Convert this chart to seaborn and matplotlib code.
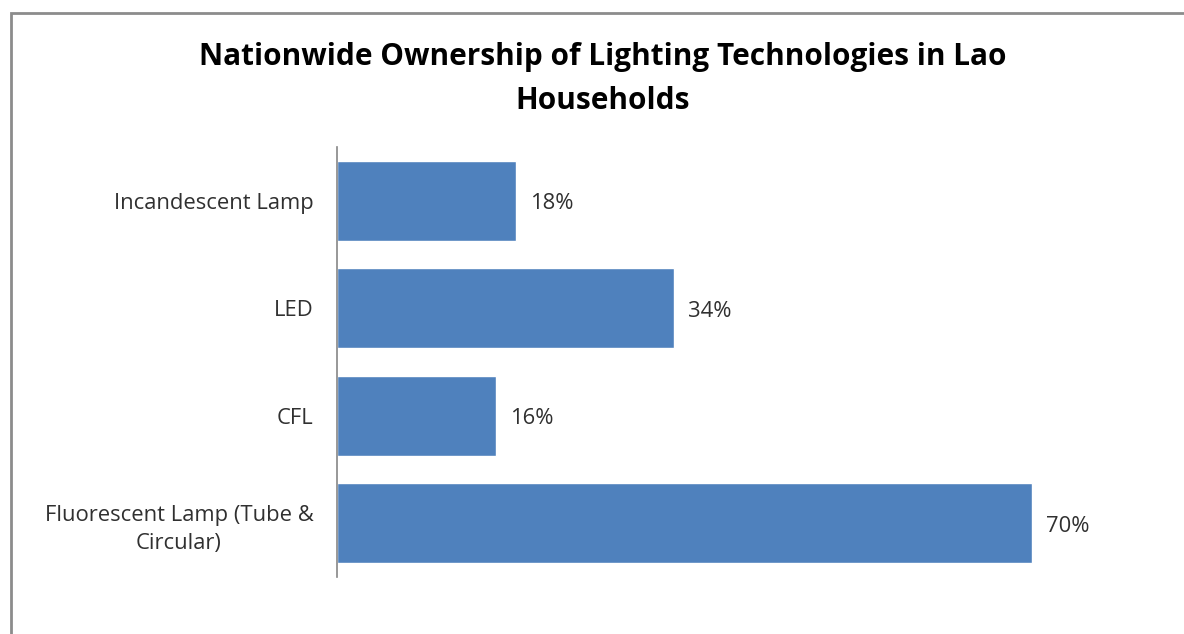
import matplotlib
matplotlib.use("Agg")
import matplotlib.pyplot as plt
from matplotlib.patches import Rectangle
import seaborn as sns
import pandas as pd

# Share of households owning each lighting technology
categories = [
    "Incandescent Lamp",
    "LED",
    "CFL",
    "Fluorescent Lamp (Tube &\nCircular)",
]
ownership = [0.18, 0.34, 0.16, 0.70]
value_labels = ["18%", "34%", "16%", "70%"]

title = "Nationwide Ownership of Lighting Technologies in Lao\nHouseholds"

sns.set_theme(style="white")
plt.rcParams["font.family"] = ["Open Sans", "DejaVu Sans"]

W, H = 1184, 634
fig = plt.figure(figsize=(W / 100, H / 100), dpi=100)
fig.patch.set_facecolor("white")

# Outer chart frame (runs past the right and bottom edges)
fig.add_artist(Rectangle((11 / W, -0.05), 1.2, 1 - 13 / H + 0.05,
                         transform=fig.transFigure, fill=False,
                         edgecolor="#8c8c8c", linewidth=2))

ax = fig.add_axes([337 / W, 1 - 577 / H, (1131 - 337) / W, (577 - 147) / H])

df = pd.DataFrame({"category": categories, "share": ownership})
sns.barplot(data=df, x="share", y="category", orient="h", color="#4F81BD",
            saturation=1, width=0.74, ax=ax)

ax.set_xlim(0, 0.8)
ax.set_ylim(3.5, -0.5)
ax.set_xlabel("")
ax.set_ylabel("")
ax.set_xticks([])
for side in ("top", "right", "bottom"):
    ax.spines[side].set_visible(False)
ax.spines["left"].set_color("#868686")
ax.spines["left"].set_linewidth(1.2)
ax.tick_params(axis="y", length=0, pad=17, labelsize=15.8, labelcolor="#303030")
for lbl in ax.get_yticklabels():
    lbl.set_multialignment("center")
    lbl.set_linespacing(1.45)

for i, (v, txt) in enumerate(zip(ownership, value_labels)):
    ax.annotate(txt, xy=(v, i), xytext=(10, -2), textcoords="offset points",
                ha="left", va="center", fontsize=15.8, color="#303030")

fig.text(603 / W, 1 - 79 / H, title, ha="center", va="center",
         fontsize=21.4, fontweight="bold", color="black", linespacing=1.58)

fig.savefig("out.png", dpi=100, facecolor="white")
